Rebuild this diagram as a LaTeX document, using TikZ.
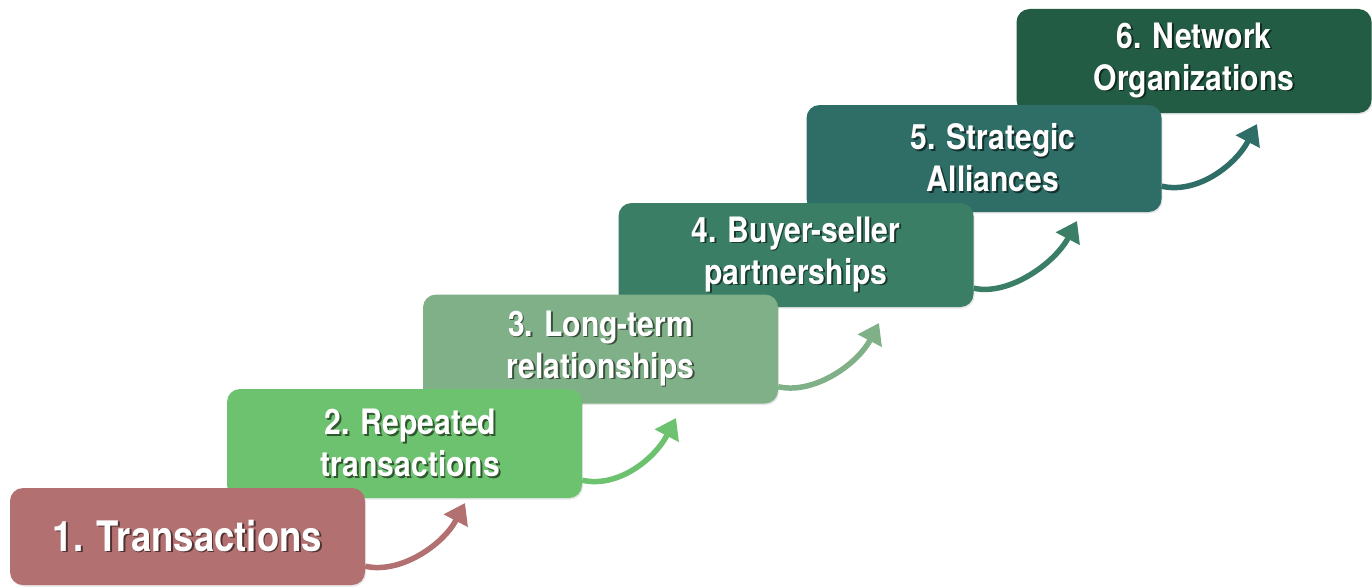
\documentclass[tikz,border=0pt]{standalone}
\usepackage{fontspec}
\newfontfamily\stagefont{TeX Gyre Heros}[FakeStretch=0.86]
\newfontfamily\firstfont{TeX Gyre Heros}[FakeStretch=0.87]
\usetikzlibrary{arrows.meta,shadows,calc}
\definecolor{c1}{HTML}{B27070}
\definecolor{c2}{HTML}{6CC26E}
\definecolor{c3}{HTML}{80B087}
\definecolor{c4}{HTML}{3A7E66}
\definecolor{c5}{HTML}{2E6E67}
\definecolor{c6}{HTML}{235C44}
\colorlet{shc}{black}
\newcommand\shtxt[1]{\leavevmode\rlap{\kern1.8pt\raisebox{-1.8pt}{\textcolor{shc}{#1}}}#1}
\tikzset{
  stagebox/.style={fill=#1, rounded corners=13pt, text=white, align=center,
    inner sep=0pt, minimum width=355pt,
    font={\stagefont\bfseries\fontsize{35}{42}\selectfont},
    execute at begin node={\colorlet{shc}{black!55!#1}},
    drop shadow={shadow xshift=1pt, shadow yshift=-1.5pt, opacity=0.2}},
  flow/.style={draw=#1, line width=5.5pt, -{Triangle[length=20pt,width=26pt]}},
}
\begin{document}
\begin{tikzpicture}[x=1pt,y=-1pt]
\useasboundingbox (0,0) rectangle (1372,586);
\node[stagebox=c6, minimum height=104pt] (b6) at (1194,61) {\shtxt{6. Network}\\\shtxt{Organizations}};
\node[stagebox=c5, minimum height=107pt] (b5) at (984,158.5) {\kern18pt\shtxt{5. Strategic}\\\kern18pt\shtxt{Alliances}};
\node[stagebox=c4, minimum height=104pt] (b4) at (796,255) {\shtxt{4. Buyer-seller}\\\shtxt{partnerships}};
\node[stagebox=c3, minimum height=109pt] (b3) at (600.5,349) {\shtxt{3. Long-term}\\\shtxt{relationships}};
\node[stagebox=c2, minimum height=109pt] (b2) at (404.5,443.5) {\kern12pt\shtxt{2. Repeated}\\\kern12pt\shtxt{transactions}};
\node[stagebox=c1, minimum height=97pt, font={\firstfont\bfseries\fontsize{42}{48}\selectfont}] (b1) at (187.5,536.5) {\shtxt{1. Transactions}};
\coordinate (t1) at (465,503);
\coordinate (t2) at (676,418);
\coordinate (t3) at (879,323);
\coordinate (t4) at (1077,221);
\coordinate (t5) at (1257,124);
\draw[flow=c1] ($(b1.south east)+(0,-19)$) .. controls +(35,8) and +(-22,42) .. (t1);
\draw[flow=c2] ($(b2.south east)+(0,-18)$) .. controls +(35,8) and +(-22,42) .. (t2);
\draw[flow=c3] ($(b3.south east)+(0,-17)$) .. controls +(35,8) and +(-22,42) .. (t3);
\draw[flow=c4] ($(b4.south east)+(0,-19)$) .. controls +(35,8) and +(-22,42) .. (t4);
\draw[flow=c5] ($(b5.south east)+(0,-26)$) .. controls +(35,8) and +(-22,42) .. (t5);
\end{tikzpicture}
\end{document}
